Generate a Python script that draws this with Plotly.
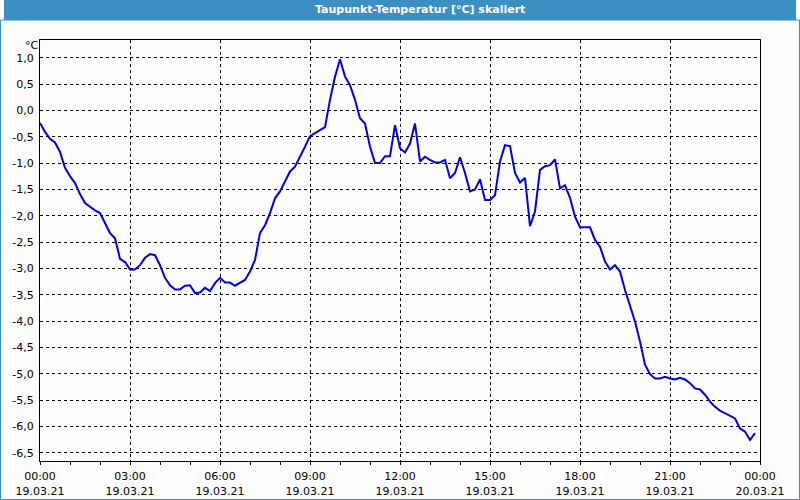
import pandas as pd
import plotly.graph_objects as go

# Dew point temperature, 10-minute samples starting 19.03.21 00:00
dewpoint = [
    -0.24, -0.41, -0.54, -0.61, -0.79, -1.09, -1.25, -1.38, -1.59, -1.76,
    -1.83, -1.90, -1.95, -2.14, -2.33, -2.43, -2.82, -2.88, -3.02, -3.02,
    -2.94, -2.80, -2.73, -2.75, -2.94, -3.18, -3.32, -3.40, -3.40, -3.33,
    -3.32, -3.47, -3.46, -3.37, -3.43, -3.28, -3.18, -3.27, -3.27, -3.33,
    -3.27, -3.22, -3.06, -2.84, -2.33, -2.18, -1.95, -1.67, -1.54, -1.35,
    -1.16, -1.07, -0.89, -0.69, -0.49, -0.43, -0.37, -0.32, 0.20, 0.64,
    0.97, 0.64, 0.48, 0.20, -0.15, -0.25, -0.69, -1.00, -1.00, -0.87,
    -0.87, -0.28, -0.72, -0.80, -0.63, -0.25, -0.97, -0.88, -0.94, -0.99,
    -0.99, -0.94, -1.29, -1.19, -0.89, -1.19, -1.54, -1.50, -1.31, -1.70,
    -1.70, -1.61, -0.97, -0.66, -0.68, -1.19, -1.37, -1.28, -2.20, -1.92,
    -1.13, -1.06, -1.04, -0.93, -1.48, -1.42, -1.66, -2.02, -2.22, -2.22,
    -2.22, -2.46, -2.59, -2.87, -3.02, -2.94, -3.06, -3.41, -3.73, -4.01,
    -4.39, -4.83, -5.01, -5.09, -5.09, -5.06, -5.09, -5.11, -5.08, -5.11,
    -5.18, -5.28, -5.30, -5.40, -5.53, -5.63, -5.70, -5.75, -5.80, -5.85,
    -6.04, -6.10, -6.26, -6.13,
]
times = pd.date_range("2021-03-19 00:00", periods=len(dewpoint), freq="10min")

x_tickvals = pd.date_range("2021-03-19 00:00", "2021-03-20 00:00", freq="3h")
x_ticktext = [
    "00:00<br>19.03.21", "03:00<br>19.03.21", "06:00<br>19.03.21",
    "09:00<br>19.03.21", "12:00<br>19.03.21", "15:00<br>19.03.21",
    "18:00<br>19.03.21", "21:00<br>19.03.21", "00:00<br>20.03.21",
]
y_tickvals = [1.0, 0.5, 0.0, -0.5, -1.0, -1.5, -2.0, -2.5, -3.0, -3.5,
              -4.0, -4.5, -5.0, -5.5, -6.0, -6.5]
y_ticktext = [f"{v:.1f}".replace(".", ",") for v in y_tickvals]

title_text = "Taupunkt-Temperatur [°C] skaliert"
unit_text = "°C"

BG = "#fcfdfc"
BLUE_BAR = "#3b8fc2"
FONT = "DejaVu Sans"

fig = go.Figure()
fig.add_trace(go.Scatter(
    x=times, y=dewpoint, mode="lines",
    line=dict(color="#0000e6", width=2),
    hoverinfo="skip", showlegend=False,
))

fig.update_layout(
    width=800, height=500,
    margin=dict(l=40, r=40, t=40, b=39, autoexpand=False),
    paper_bgcolor=BG, plot_bgcolor=BG,
    font=dict(family=FONT, size=11, color="#000000"),
    showlegend=False,
)

fig.update_xaxes(
    range=[pd.Timestamp("2021-03-19 00:00"), pd.Timestamp("2021-03-20 00:00")],
    tickmode="array", tickvals=x_tickvals, ticktext=x_ticktext,
    ticks="outside", ticklen=3, tickcolor="#000000",
    minor=dict(dtick=3600000, ticks="outside", ticklen=3, tickcolor="#000000",
               showgrid=False),
    showgrid=True, gridcolor="#000000", gridwidth=1, griddash="3px,3px",
    showline=True, linecolor="#000000", linewidth=1, mirror=True,
    zeroline=False, tickfont=dict(family=FONT, size=11, color="#000000"),
    ticklabelstandoff=2,
)
fig.update_yaxes(
    range=[-6.658, 1.336],
    tickmode="array", tickvals=y_tickvals, ticktext=y_ticktext,
    ticks="", showgrid=True, gridcolor="#000000", gridwidth=1, griddash="3px,3px",
    showline=True, linecolor="#000000", linewidth=1, mirror=True,
    zeroline=False, tickfont=dict(family=FONT, size=11, color="#000000"),
    ticklabelstandoff=3,
)

# Window chrome: title bar and border
fig.add_shape(type="rect", xref="paper", yref="paper",
              x0=-0.05, x1=1.05, y0=1.0 + 20 / 421, y1=1.0 + 40 / 421,
              fillcolor=BLUE_BAR, line=dict(width=0), layer="below")
fig.add_annotation(text="<b>" + title_text + "</b>", xref="paper", yref="paper",
                   x=(420 - 40) / 720, y=1.0 + 30 / 421, showarrow=False,
                   font=dict(family=FONT, size=11, color="#ffffff"),
                   xanchor="center", yanchor="middle")
fig.add_shape(type="rect", xref="paper", yref="paper",
              x0=-40 / 720 + 0.5 / 720, x1=1 + 40 / 720 - 0.5 / 720,
              y0=-39 / 421 + 0.5 / 421, y1=1.0 + 20 / 421,
              fillcolor="rgba(0,0,0,0)", line=dict(color=BLUE_BAR, width=1),
              layer="below")
fig.add_annotation(text=unit_text, xref="paper", yref="paper",
                   x=0.5 / 720, y=1.0 - 5 / 421, showarrow=False,
                   font=dict(family=FONT, size=11, color="#000000"),
                   xanchor="right", yanchor="middle")

fig.write_html("out.html")
